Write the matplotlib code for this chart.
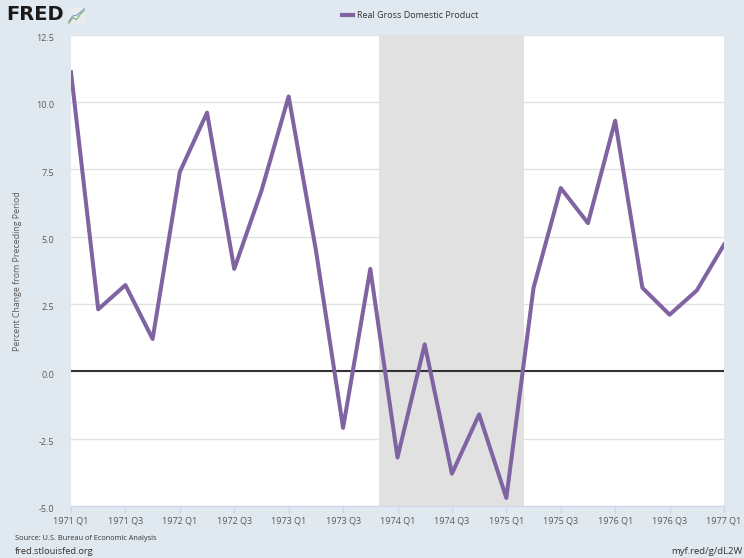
import matplotlib
matplotlib.use("Agg")
import matplotlib.pyplot as plt
from matplotlib.transforms import ScaledTranslation

# Real GDP, percent change from preceding period (quarterly, SAAR)
quarters = [
    "1971 Q1", "1971 Q2", "1971 Q3", "1971 Q4",
    "1972 Q1", "1972 Q2", "1972 Q3", "1972 Q4",
    "1973 Q1", "1973 Q2", "1973 Q3", "1973 Q4",
    "1974 Q1", "1974 Q2", "1974 Q3", "1974 Q4",
    "1975 Q1", "1975 Q2", "1975 Q3", "1975 Q4",
    "1976 Q1", "1976 Q2", "1976 Q3", "1976 Q4",
    "1977 Q1",
]
gdp_change = [
    11.1, 2.3, 3.2, 1.2,
    7.4, 9.6, 3.8, 6.7,
    10.2, 4.5, -2.1, 3.8,
    -3.2, 1.0, -3.8, -1.6,
    -4.7, 3.1, 6.8, 5.5,
    9.3, 3.1, 2.1, 3.0,
    4.7,
]
# NBER recession Nov 1973 - Mar 1975, in quarter-index units
recession = (11 + 1 / 3, 16 + 2 / 3)
yticks = [-5.0, -2.5, 0.0, 2.5, 5.0, 7.5, 10.0, 12.5]

bg = "#e1e9f0"
purple = "#8064a2"
txt = "#595959"

plt.rcParams["font.family"] = ["Open Sans", "DejaVu Sans"]

fig = plt.figure(figsize=(7.44, 5.58), dpi=100, facecolor=bg)
ax = fig.add_axes([71 / 744, 1 - 506 / 558, (724 - 71) / 744, (506 - 34.5) / 558])
ax.set_facecolor("white")

x = list(range(len(quarters)))
ax.axvspan(recession[0], recession[1], color="#e1e1e1", lw=0, zorder=0)
for t in yticks:
    ax.axhline(t, color="#e2e2e2", lw=1, zorder=1)
ax.axhline(0, color="#333333", lw=1.5, zorder=2)
ax.plot(x, gdp_change, color=purple, lw=2.9, solid_joinstyle="round", zorder=3)

ax.set_xlim(0, len(quarters) - 1)
ax.set_ylim(-5, 12.5)
ax.set_yticks(yticks)
ax.set_yticklabels([f"{t:.1f}" for t in yticks])
ax.set_xticks(x[::2])
ax.set_xticklabels(quarters[::2])

for s in ["top", "right", "left"]:
    ax.spines[s].set_visible(False)
ax.spines["bottom"].set_color("#ccd6eb")
ax.tick_params(axis="y", length=0, pad=12, labelsize=6.5, labelcolor=txt)
ax.tick_params(axis="x", length=5, width=1, color="#ccd6eb", pad=2.5,
               labelsize=6.5, labelcolor=txt)
# highcharts-style y labels sit a little below their gridline
shift = ScaledTranslation(0, -3 / 100, fig.dpi_scale_trans)
for lab in ax.get_yticklabels():
    lab.set_transform(lab.get_transform() + shift)

fig.text(18 / 744, 1 - 271 / 558, "Percent Change from Preceding Period",
         rotation=90, ha="center", va="center", fontsize=6.3, color=txt)

# legend
fig.lines.append(plt.Line2D([342 / 744, 353 / 744], [1 - 15 / 558] * 2,
                            transform=fig.transFigure, color=purple, lw=3))
fig.text(357 / 744, 1 - 15 / 558, "Real Gross Domestic Product",
         ha="left", va="center", fontsize=6.5, color="#333333")

# logo
fig.text(6 / 744, 1 - 15 / 558, "FRED", ha="left", va="center",
         fontsize=14, fontweight="heavy", color="#1a1a1a",
         family=["DejaVu Sans"])
icon = fig.add_axes([68 / 744, 1 - 24 / 558, 17 / 744, 16 / 558])
icon.set_facecolor("#e8ecef")
icon.plot([0, 1, 2, 3, 4], [0, 1.5, 1, 2.5, 3.5], color="#7fb06b", lw=0.8)
icon.plot([0, 1, 2, 3, 4], [0.5, 2, 2.2, 3, 4], color="#7a9cc6", lw=0.8)
icon.set_xticks([])
icon.set_yticks([])
for s in icon.spines.values():
    s.set_visible(False)

fig.text(15 / 744, 1 - 539 / 558, "Source: U.S. Bureau of Economic Analysis",
         ha="left", va="center", fontsize=5.3, color="#333333")
fig.text(15 / 744, 1 - 551 / 558, "fred.stlouisfed.org",
         ha="left", va="center", fontsize=6.7, color="#333333")
fig.text(742 / 744, 1 - 551 / 558, "myf.red/g/dL2W",
         ha="right", va="center", fontsize=6.8, color="#333333")

fig.savefig("out.png", dpi=100, facecolor=bg)
